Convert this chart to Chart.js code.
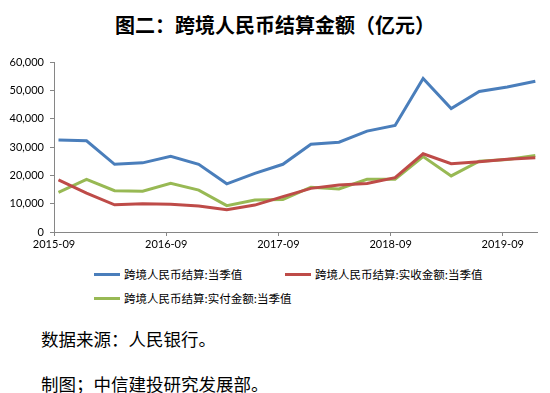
<!DOCTYPE html>
<html>
<head>
<meta charset="utf-8">
<script src="https://cdn.jsdelivr.net/npm/chart.js@4/dist/chart.umd.min.js"></script>
<style>
body{margin:0;width:550px;height:393px;background:#fff;position:relative;overflow:hidden;font-family:"Noto Sans CJK SC",sans-serif;color:#000;}
#title{position:absolute;left:0;top:10px;width:550px;text-align:center;font-size:20px;font-weight:bold;}
#wrap{position:absolute;left:0;top:0;width:550px;height:260px;}
.leg{position:absolute;font-size:11.5px;line-height:14px;white-space:nowrap;}
.leg i{display:inline-block;width:26px;height:3px;vertical-align:middle;margin-right:4px;position:relative;top:-1px;}
.note{position:absolute;left:41px;font-size:17.5px;}
</style>
</head>
<body>
<div id="title">图二：跨境人民币结算金额（亿元）</div>
<div id="wrap"><canvas id="myChart" width="550" height="260"></canvas></div>
<div id="legend"></div>
<div class="note" style="top:326px">数据来源：人民银行。</div>
<div class="note" style="top:371px">制图；中信建投研究发展部。</div>
<script>
// quarterly values, 2015-09 .. 2019-12
let quarters = ['2015-09','2015-12','2016-03','2016-06','2016-09','2016-12','2017-03','2017-06','2017-09','2017-12','2018-03','2018-06','2018-09','2018-12','2019-03','2019-06','2019-09','2019-12'];
let total    = [32500,32200,23900,24400,26700,23900,17000,20700,23900,31000,31700,35600,37600,54200,43600,49600,51200,53200];
let received = [18400,13700,9600,10000,9800,9200,7900,9500,12500,15400,16600,17100,19200,27600,24100,24800,25700,26200];
let paid     = [14000,18600,14600,14400,17200,14800,9300,11300,11500,15800,15200,18600,18600,26600,19800,25000,25600,27000];
let tickLabels = ['2015-09','2016-09','2017-09','2018-09','2019-09'];
let names = ['跨境人民币结算:当季值','跨境人民币结算:实收金额:当季值','跨境人民币结算:实付金额:当季值'];
let colors = ['#4a7ebb','#be4b48','#98b954'];

// labels sit a little before each data point
let tickPos = tickLabels.map(function(t){ return quarters.indexOf(t) - 0.16; });

function pts(arr){
    return arr.map(function(v,i){ return {x:i, y:v}; });
}

let legend = document.getElementById('legend');
let legPos = [[94,267],[285,267],[94,291]];
names.forEach(function(n,i){
    let d = document.createElement('div');
    d.className = 'leg';
    d.style.left = legPos[i][0]+'px';
    d.style.top = legPos[i][1]+'px';
    d.innerHTML = '<i style="background:'+colors[i]+'"></i>'+n;
    legend.appendChild(d);
});

let axisColor = '#868686';
var ctx = document.getElementById('myChart').getContext('2d');
var chart = new Chart(ctx, {
    type: 'line',
    data: {
        datasets: [total, received, paid].map(function(arr,i){
            return {
                label: names[i],
                data: pts(arr),
                borderColor: colors[i],
                backgroundColor: colors[i],
                borderWidth: 3,
                pointRadius: 0,
                tension: 0,
                fill: false
            };
        })
    },
    options: {
        responsive: false,
        animation: false,
        layout: { padding: { top: 62, right: 13, left: 0, bottom: 0 } },
        plugins: {
            legend: { display: false },
            tooltip: { enabled: false }
        },
        scales: {
            x: {
                type: 'linear',
                min: -0.16,
                max: 17.06,
                afterBuildTicks: function(scale){
                    scale.ticks = tickPos.map(function(v){ return {value:v}; });
                },
                afterFit: function(scale){ scale.height = 28; },
                ticks: {
                    autoSkip: false,
                    maxRotation: 0,
                    padding: 2,
                    color: '#000',
                    font: { family: 'Lato', size: 11 },
                    callback: function(v, idx){ return tickLabels[idx]; }
                },
                grid: { drawOnChartArea: false, tickLength: 4, color: axisColor },
                border: { color: axisColor }
            },
            y: {
                min: 0,
                max: 60000,
                afterFit: function(scale){ scale.width = 54; },
                ticks: {
                    stepSize: 10000,
                    padding: 6,
                    color: '#000',
                    font: { family: 'Lato', size: 11 },
                    callback: function(v){ return v.toLocaleString('en-US'); }
                },
                grid: { drawOnChartArea: false, tickLength: 4, color: axisColor },
                border: { color: axisColor }
            }
        }
    }
});
</script>
</body>
</html>
